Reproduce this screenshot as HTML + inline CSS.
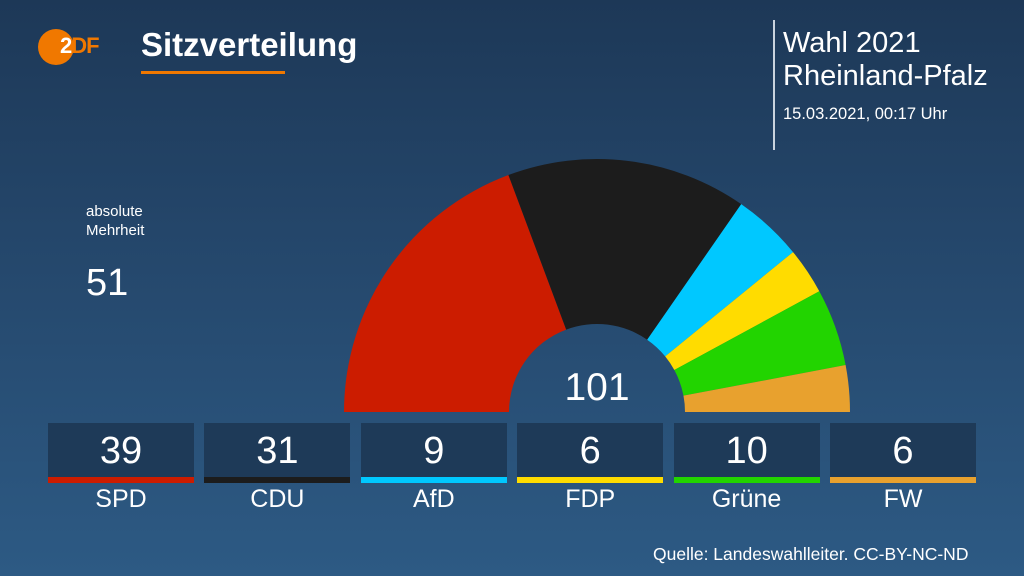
<!DOCTYPE html>
<html><head><meta charset="utf-8"><style>
html,body{margin:0;padding:0}
body{width:1024px;height:576px;overflow:hidden;position:relative;font-family:"Liberation Sans",sans-serif;color:#fff;
background:linear-gradient(180deg,#1d3857 0%,#24466a 40%,#2d5a84 100%);}
.a{position:absolute;white-space:nowrap}
.box{position:absolute;top:423px;width:146px;height:54px;background:#1e3a58;text-align:center;font-size:38px;line-height:56px}
.bar{position:absolute;top:477px;width:146px;height:6px}
.lab{position:absolute;top:484px;width:146px;text-align:center;font-size:25px;line-height:30px}
</style></head><body>
<div class="a" style="left:38px;top:29px;width:36px;height:36px;border-radius:50%;background:#f07800"></div>
<div class="a" style="left:60px;top:33px;font-size:22px;font-weight:bold;color:#f07800;letter-spacing:-1px"><span style="color:#fff">2</span>DF</div>
<div class="a" style="left:141px;top:26px;font-size:33px;font-weight:bold">Sitzverteilung</div>
<div class="a" style="left:141px;top:71px;width:144px;height:3px;background:#f07800"></div>
<div class="a" style="left:773px;top:20px;width:2px;height:130px;background:#c9d3de"></div>
<div class="a" style="left:783px;top:27px;font-size:29px;line-height:33px">Wahl 2021<br>Rheinland-Pfalz</div>
<div class="a" style="left:783px;top:105px;font-size:16.5px">15.03.2021, 00:17 Uhr</div>
<div class="a" style="left:86px;top:202px;font-size:15px;line-height:19px">absolute<br>Mehrheit</div>
<div class="a" style="left:86px;top:262px;font-size:38px">51</div>
<svg class="a" style="left:0;top:0" width="1024" height="576" id="s"></svg>
<div class="a" style="left:547px;top:366px;width:100px;text-align:center;font-size:39px">101</div>
<div id="b"></div>
<div class="a" style="left:653px;top:544px;font-size:17.5px">Quelle: Landeswahlleiter. CC-BY-NC-ND</div>
<script>
var d=[["SPD",39,"#cc1c00"],["CDU",31,"#1c1c1c"],["AfD",9,"#00c8ff"],["FDP",6,"#ffdc00"],["Grüne",10,"#22d400"],["FW",6,"#e8a12e"]];
var cx=597,cy=412,R=253,r=88,t=101,acc=0,s="",h="";
function p(a,rad){return [cx-rad*Math.cos(a),cy-rad*Math.sin(a)];}
d.forEach(function(e,i){var a0=acc/t*Math.PI;acc+=e[1];var a1=acc/t*Math.PI;
var A=p(a0,R),B=p(a1,R),C=p(a1,r),D=p(a0,r);
s+='<path fill="'+e[2]+'" d="M'+A+' A'+R+' '+R+' 0 0 1 '+B+' L'+C+' A'+r+' '+r+' 0 0 0 '+D+'Z"/>';
var x=48+i*156.4;
h+='<div class="box" style="left:'+x+'px">'+e[1]+'</div><div class="bar" style="left:'+x+'px;background:'+e[2]+'"></div><div class="lab" style="left:'+x+'px">'+e[0]+'</div>';});
document.getElementById("s").innerHTML=s;document.getElementById("b").innerHTML=h;
</script>
</body></html>
